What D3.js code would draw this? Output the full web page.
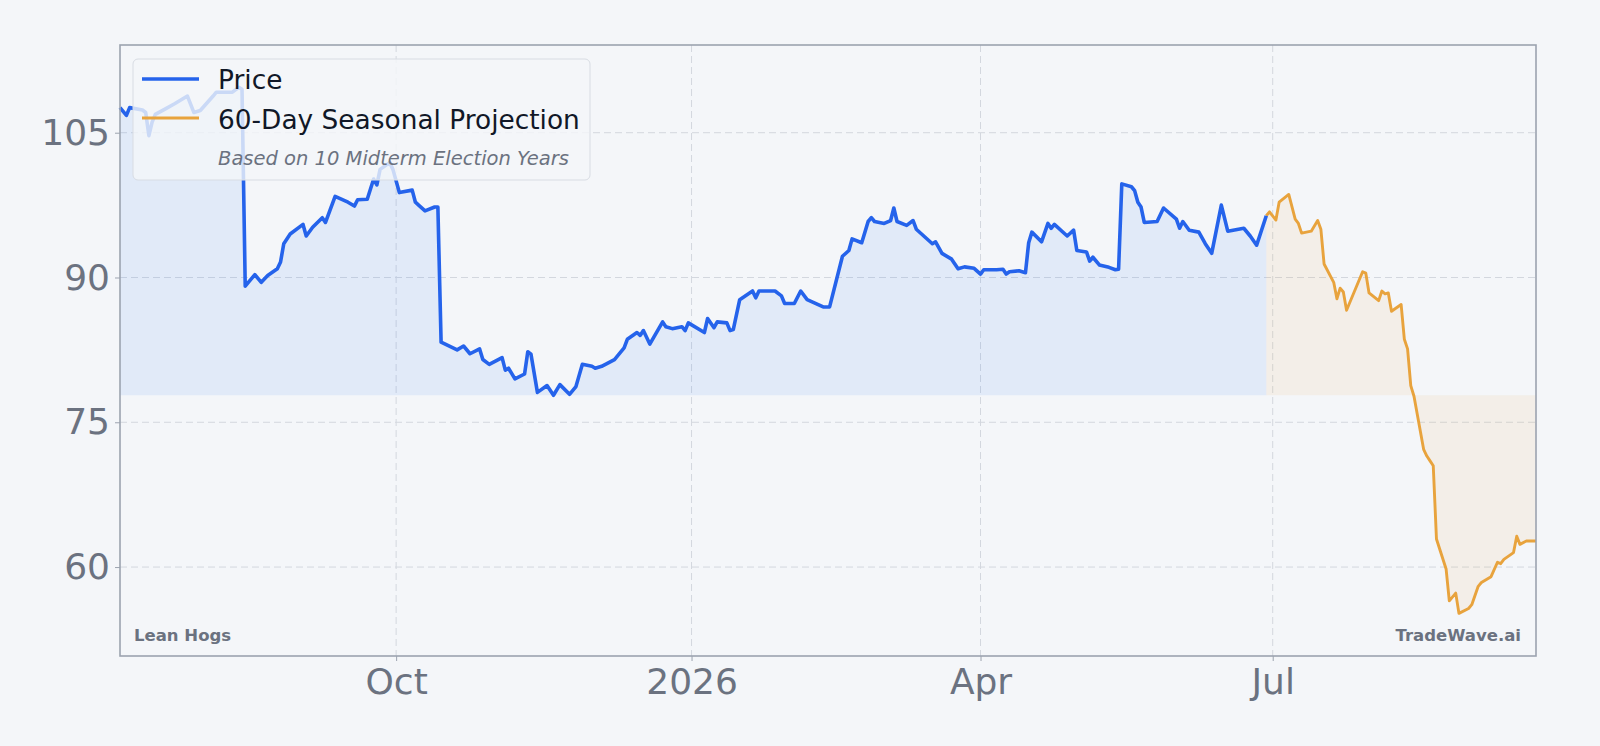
<!DOCTYPE html>
<html>
<head>
<meta charset="utf-8">
<script src="https://cdn.jsdelivr.net/npm/d3@7"></script>
<style>
  html, body { margin: 0; padding: 0; background: #f4f6f9; }
  svg { display: block; font-family: 'DejaVu Sans', sans-serif; }
</style>
</head>
<body>
<div id="chart"></div>
<script>
const priceDates = [
  '2025-07-07', '2025-07-09', '2025-07-10', '2025-07-14', '2025-07-15', '2025-07-16', '2025-07-17', '2025-07-18',
  '2025-07-21', '2025-07-24', '2025-07-28', '2025-07-30', '2025-08-01', '2025-08-05', '2025-08-06', '2025-08-11',
  '2025-08-13', '2025-08-14', '2025-08-15', '2025-08-18', '2025-08-20', '2025-08-22', '2025-08-25', '2025-08-26',
  '2025-08-27', '2025-08-29', '2025-09-02', '2025-09-03', '2025-09-05', '2025-09-08', '2025-09-09', '2025-09-12',
  '2025-09-16', '2025-09-18', '2025-09-19', '2025-09-22', '2025-09-24', '2025-09-25', '2025-09-26', '2025-09-29',
  '2025-09-30', '2025-10-02', '2025-10-06', '2025-10-07', '2025-10-08', '2025-10-10', '2025-10-13', '2025-10-14',
  '2025-10-15', '2025-10-20', '2025-10-22', '2025-10-24', '2025-10-27', '2025-10-28', '2025-10-30', '2025-11-03',
  '2025-11-04', '2025-11-05', '2025-11-07', '2025-11-10', '2025-11-11', '2025-11-12', '2025-11-14', '2025-11-17',
  '2025-11-19', '2025-11-21', '2025-11-24', '2025-11-26', '2025-11-28', '2025-12-01', '2025-12-02', '2025-12-04',
  '2025-12-08', '2025-12-11', '2025-12-12', '2025-12-15', '2025-12-16', '2025-12-17', '2025-12-19', '2025-12-23',
  '2025-12-24', '2025-12-26', '2025-12-29', '2025-12-30', '2025-12-31', '2026-01-05', '2026-01-06', '2026-01-08',
  '2026-01-09', '2026-01-12', '2026-01-13', '2026-01-14', '2026-01-16', '2026-01-20', '2026-01-21', '2026-01-22',
  '2026-01-27', '2026-01-29', '2026-01-30', '2026-02-02', '2026-02-04', '2026-02-06', '2026-02-11', '2026-02-13',
  '2026-02-17', '2026-02-19', '2026-02-20', '2026-02-23', '2026-02-25', '2026-02-26', '2026-02-27', '2026-03-02',
  '2026-03-04', '2026-03-05', '2026-03-06', '2026-03-09', '2026-03-11', '2026-03-12', '2026-03-17', '2026-03-18',
  '2026-03-20', '2026-03-23', '2026-03-25', '2026-03-27', '2026-03-30', '2026-04-01', '2026-04-02', '2026-04-06',
  '2026-04-08', '2026-04-09', '2026-04-10', '2026-04-13', '2026-04-15', '2026-04-16', '2026-04-17', '2026-04-20',
  '2026-04-22', '2026-04-23', '2026-04-24', '2026-04-28', '2026-04-30', '2026-05-01', '2026-05-04', '2026-05-05',
  '2026-05-06', '2026-05-08', '2026-05-11', '2026-05-13', '2026-05-14', '2026-05-15', '2026-05-18', '2026-05-19',
  '2026-05-20', '2026-05-21', '2026-05-22', '2026-05-26', '2026-05-28', '2026-06-01', '2026-06-02', '2026-06-03',
  '2026-06-05', '2026-06-08', '2026-06-10', '2026-06-12', '2026-06-15', '2026-06-17', '2026-06-22', '2026-06-24',
  '2026-06-26', '2026-06-29'
]
const priceValues = [
  107.6, 106.8, 107.6, 107.35, 107.1, 104.7, 106.1, 106.9,
  107.45, 108.0, 108.8, 107.1, 107.3, 108.8, 109.2, 109.2,
  109.7, 109.5, 89.1, 90.3, 89.5, 90.2, 90.9, 91.6,
  93.5, 94.5, 95.5, 94.3, 95.2, 96.2, 95.7, 98.4,
  97.8, 97.4, 98.05, 98.1, 100.2, 99.6, 101.2, 101.9,
  101.2, 98.8, 99.05, 97.8, 97.5, 96.9, 97.3, 97.3,
  83.3, 82.5, 82.9, 82.1, 82.6, 81.5, 81.0, 81.7,
  80.4, 80.6, 79.5, 80.0, 82.3, 82.05, 78.1, 78.8,
  77.8, 78.9, 77.9, 78.7, 81.0, 80.8, 80.6, 80.8,
  81.5, 82.7, 83.6, 84.3, 84.0, 84.5, 83.1, 85.4,
  84.9, 84.7, 84.9, 84.5, 85.3, 84.3, 85.75, 84.8,
  85.4, 85.3, 84.5, 84.6, 87.7, 88.6, 87.9, 88.6,
  88.6, 88.1, 87.3, 87.3, 88.6, 87.7, 86.95, 86.95,
  92.2, 92.8, 94.0, 93.6, 95.8, 96.2, 95.8, 95.6,
  95.9, 97.2, 95.8, 95.4, 95.9, 95.0, 93.5, 93.7,
  92.5, 91.9, 90.9, 91.1, 90.95, 90.35, 90.8, 90.8,
  90.85, 90.35, 90.6, 90.7, 90.5, 93.6, 94.7, 93.7,
  95.6, 95.1, 95.5, 94.3, 94.9, 92.8, 92.65, 91.7,
  92.1, 91.3, 91.05, 90.8, 90.85, 99.7, 99.4, 99.0,
  97.8, 97.3, 95.7, 95.8, 97.2, 96.05, 95.1, 95.8,
  94.9, 94.7, 93.5, 92.5, 97.5, 94.8, 95.1, 94.3,
  93.35, 96.4
]

const projectionDates = [
  '2026-06-29', '2026-06-30', '2026-07-02', '2026-07-03', '2026-07-06', '2026-07-08', '2026-07-09', '2026-07-10',
  '2026-07-13', '2026-07-15', '2026-07-16', '2026-07-17', '2026-07-20', '2026-07-21', '2026-07-22', '2026-07-23',
  '2026-07-24', '2026-07-29', '2026-07-30', '2026-07-31', '2026-08-03', '2026-08-04', '2026-08-05', '2026-08-06',
  '2026-08-07', '2026-08-10', '2026-08-11', '2026-08-12', '2026-08-13', '2026-08-14', '2026-08-17', '2026-08-18',
  '2026-08-19', '2026-08-20', '2026-08-21', '2026-08-24', '2026-08-25', '2026-08-27', '2026-08-28', '2026-08-31',
  '2026-09-01', '2026-09-03', '2026-09-04', '2026-09-07', '2026-09-09', '2026-09-10', '2026-09-11', '2026-09-14',
  '2026-09-15', '2026-09-16', '2026-09-18', '2026-09-21'
]
const projectionValues = [
  96.4, 96.8, 95.95, 97.8, 98.6, 96.05, 95.6, 94.6,
  94.8, 95.9, 95.0, 91.4, 89.5, 87.8, 88.9, 88.5,
  86.6, 90.6, 90.45, 88.4, 87.6, 88.6, 88.3, 88.4,
  86.5, 87.2, 83.6, 82.6, 78.8, 77.7, 72.2, 71.5,
  71.0, 70.5, 62.9, 59.8, 56.5, 57.3, 55.2, 55.7,
  56.1, 58.0, 58.4, 59.0, 60.5, 60.35, 60.8, 61.5,
  63.2, 62.35, 62.7, 62.7
]

const yTicks = [60, 75, 90, 105]
const xTickDates = ['2025-10-01', '2026-01-01', '2026-04-01', '2026-07-01']
const xTickLabels = ['Oct', '2026', 'Apr', 'Jul']

const parse = d3.timeParse('%Y-%m-%d')
const price = priceDates.map((d, i) => ({date: parse(d), value: priceValues[i]}))
const projection = projectionDates.map((d, i) => ({date: parse(d), value: projectionValues[i]}))

const width = 1600
const height = 746
const margin = {top: 45, right: 64, bottom: 90, left: 120}
const innerW = width - margin.left - margin.right
const innerH = height - margin.top - margin.bottom

const allValues = priceValues.concat(projectionValues)
const x = d3.scaleTime()
  .domain([price[0].date, projection[projection.length - 1].date])
  .range([0, innerW])
const y = d3.scaleLinear()
  .domain([d3.min(allValues) * 0.92, d3.max(allValues) * 1.04])
  .range([innerH, 0])
const baseline = d3.min(priceValues)

const blue = '#2563eb'
const orange = '#e8a33d'
const muted = '#6b7280'

const svg = d3.select('#chart').append('svg')
  .attr('width', width)
  .attr('height', height)

svg.append('rect')
  .attr('width', width)
  .attr('height', height)
  .attr('fill', '#f4f6f9')

const chart = svg.append('g')
  .attr('transform', `translate(${margin.left}, ${margin.top})`)

// grid
chart.append('g').selectAll('line').data(yTicks)
  .enter().append('line')
    .attr('x1', 0)
    .attr('x2', innerW)
    .attr('y1', (d) => y(d))
    .attr('y2', (d) => y(d))
    .attr('stroke', '#d3d7de')
    .attr('stroke-dasharray', '7,4')
chart.append('g').selectAll('line').data(xTickDates)
  .enter().append('line')
    .attr('x1', (d) => x(parse(d)))
    .attr('x2', (d) => x(parse(d)))
    .attr('y1', 0)
    .attr('y2', innerH)
    .attr('stroke', '#d3d7de')
    .attr('stroke-dasharray', '7,4')

const area = d3.area()
  .x((d) => x(d.date))
  .y0(y(baseline))
  .y1((d) => y(d.value))
const line = d3.line()
  .x((d) => x(d.date))
  .y((d) => y(d.value))

chart.append('path')
  .datum(price)
  .attr('d', area)
  .attr('fill', '#3b82f6')
  .attr('fill-opacity', 0.1)
chart.append('path')
  .datum(projection)
  .attr('d', area)
  .attr('fill', orange)
  .attr('fill-opacity', 0.09)

chart.append('path')
  .datum(projection)
  .attr('d', line)
  .attr('fill', 'none')
  .attr('stroke', orange)
  .attr('stroke-width', 2.9)
  .attr('stroke-linejoin', 'round')
chart.append('path')
  .datum(price)
  .attr('d', line)
  .attr('fill', 'none')
  .attr('stroke', blue)
  .attr('stroke-width', 3.6)
  .attr('stroke-linejoin', 'round')

// axes
const yAxis = chart.append('g')
  .call(d3.axisLeft(y).tickValues(yTicks).tickSize(5).tickPadding(5).tickFormat(d3.format('d')))
yAxis.select('.domain').remove()
yAxis.selectAll('line').attr('stroke', '#9ca3af')
yAxis.selectAll('text')
  .attr('fill', muted)
  .attr('font-size', 36)
  .attr('font-family', 'DejaVu Sans')

const xAxis = chart.append('g')
  .attr('transform', `translate(0, ${innerH})`)
  .call(d3.axisBottom(x).tickValues(xTickDates.map(parse)).tickSize(5).tickPadding(7)
    .tickFormat((d, i) => xTickLabels[i]))
xAxis.select('.domain').remove()
xAxis.selectAll('line').attr('stroke', '#9ca3af')
xAxis.selectAll('text')
  .attr('fill', muted)
  .attr('font-size', 36)
  .attr('font-family', 'DejaVu Sans')

chart.append('rect')
  .attr('width', innerW)
  .attr('height', innerH)
  .attr('fill', 'none')
  .attr('stroke', '#9ca3af')
  .attr('stroke-width', 1.6)

chart.append('text')
  .attr('x', 14)
  .attr('y', innerH - 15)
  .attr('fill', muted)
  .attr('font-size', 16.5)
  .attr('font-weight', 'bold')
  .text('Lean Hogs')
chart.append('text')
  .attr('x', innerW - 15)
  .attr('y', innerH - 15)
  .attr('text-anchor', 'end')
  .attr('fill', muted)
  .attr('font-size', 16.5)
  .attr('font-weight', 'bold')
  .text('TradeWave.ai')

// legend
const legend = svg.append('g')
  .attr('transform', 'translate(133, 59)')
legend.append('rect')
  .attr('width', 457)
  .attr('height', 121)
  .attr('rx', 5)
  .attr('fill', '#f4f6f9')
  .attr('fill-opacity', 0.8)
  .attr('stroke', '#d8dce3')
const legendItems = [
  {label: 'Price', color: blue, width: 3.6},
  {label: '60-Day Seasonal Projection', color: orange, width: 2.9}
]
legend.selectAll('.item').data(legendItems)
  .enter().append('line')
    .attr('x1', 9)
    .attr('x2', 66)
    .attr('y1', (d, i) => 20 + i * 39)
    .attr('y2', (d, i) => 20 + i * 39)
    .attr('stroke', (d) => d.color)
    .attr('stroke-width', (d) => d.width)
legend.selectAll('.label').data(legendItems)
  .enter().append('text')
    .attr('x', 85)
    .attr('y', (d, i) => 30 + i * 40)
    .attr('fill', '#111827')
    .attr('font-size', 26.4)
    .text((d) => d.label)
legend.append('text')
  .attr('x', 85)
  .attr('y', 106)
  .attr('fill', muted)
  .attr('font-size', 19.5)
  .attr('font-style', 'italic')
  .text('Based on 10 Midterm Election Years')
</script>
</body>
</html>
